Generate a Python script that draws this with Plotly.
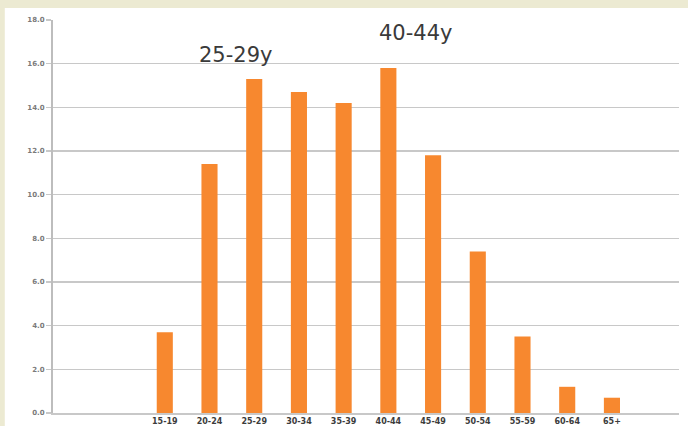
import plotly.graph_objects as go

# Data
age_groups = ["15-19", "20-24", "25-29", "30-34", "35-39", "40-44",
              "45-49", "50-54", "55-59", "60-64", "65+"]
percent = [3.7, 11.4, 15.3, 14.7, 14.2, 15.8, 11.8, 7.4, 3.5, 1.2, 0.7]
y_ticks = [0, 2, 4, 6, 8, 10, 12, 14, 16, 18]
y_tick_labels = ["0.0", "2.0", "4.0", "6.0", "8.0", "10.0", "12.0", "14.0", "16.0", "18.0"]
peak_labels = ["25-29y", "40-44y"]
peak_groups = ["25-29", "40-44"]

xpos = list(range(len(age_groups)))

fig = go.Figure()
fig.add_trace(go.Bar(
    x=xpos, y=percent,
    marker=dict(color="#F7882F", line=dict(width=0)),
    width=0.36,
    hoverinfo="skip",
))

# peak annotations
offsets = [(-0.42, 16.4), (0.6, 17.4)]
for lab, grp, (dx, yy) in zip(peak_labels, peak_groups, offsets):
    fig.add_annotation(
        x=age_groups.index(grp) + dx, y=yy, xref="x", yref="y",
        text=lab, showarrow=False,
        font=dict(family="DejaVu Sans", size=21, color="#3a3a3a"),
    )

# white panel over beige frame
fig.add_shape(type="rect", xref="paper", yref="paper",
              x0=-0.077, x1=1.1, y0=-0.1, y1=1.0305,
              fillcolor="white", line=dict(width=0), layer="below")

fig.update_layout(
    width=688, height=426,
    margin=dict(l=53, r=9, t=20, b=13, autoexpand=False),
    paper_bgcolor="#ECEAD2",
    plot_bgcolor="rgba(0,0,0,0)",
    showlegend=False,
    bargap=0.66,
    xaxis=dict(
        range=[-2.5, 11.5],
        tickmode="array", tickvals=xpos, ticktext=age_groups,
        tickfont=dict(family="DejaVu Sans", size=8, color="#3c3c3c", weight="bold"),
        showgrid=False, zeroline=False,
        showline=True, linecolor="#C8C8C8", linewidth=1.5,
        ticks="", fixedrange=True, automargin=False,
    ),
    yaxis=dict(
        range=[0, 18],
        tickmode="array", tickvals=y_ticks, ticktext=y_tick_labels,
        tickfont=dict(family="DejaVu Sans", size=7, color="#7a7a7a", weight="bold"),
        showgrid=True, gridcolor="#C8C8C8", gridwidth=1.5,
        zeroline=False,
        showline=True, linecolor="#BDBDBD", linewidth=2,
        ticks="outside", ticklen=5, tickcolor="#C8C8C8", tickwidth=1.5,
        fixedrange=True, automargin=False,
    ),
)

fig.write_html(
    "out.html",
    config={"displayModeBar": False, "staticPlot": True},
    post_script="document.body.style.margin='0';document.body.style.background='#ECEAD2';",
)
